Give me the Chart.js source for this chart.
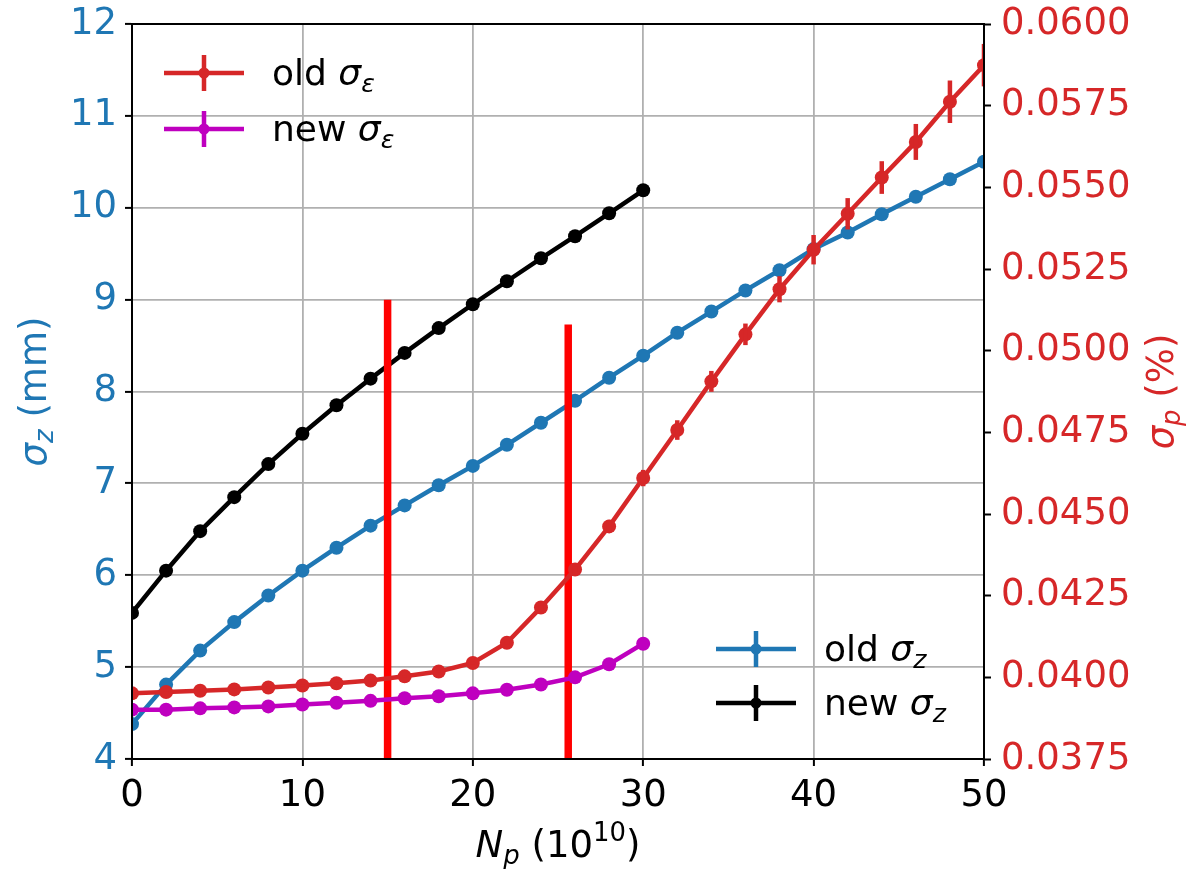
<!DOCTYPE html>
<html>
<head>
<meta charset="utf-8">
<script src="https://cdn.jsdelivr.net/npm/chart.js@4.4.1/dist/chart.umd.min.js"></script>
<style>
  body { margin: 0; background: #fff; }
  canvas { display: block; }
</style>
</head>
<body>
<canvas id="c" width="1187" height="869"></canvas>
<script>
// bunch intensity, 10^10
const npOld = [0, 2, 4, 6, 8, 10, 12, 14, 16, 18, 20, 22, 24, 26, 28, 30, 32, 34, 36, 38, 40, 42, 44, 46, 48, 50];
const npNew = [0, 2, 4, 6, 8, 10, 12, 14, 16, 18, 20, 22, 24, 26, 28, 30];

// bunch length (mm), left axis
const oldSigmaZ = [4.38, 4.81, 5.18, 5.49, 5.78, 6.05, 6.30, 6.54, 6.76, 6.98, 7.19, 7.42, 7.66, 7.90, 8.15, 8.39, 8.64, 8.87, 9.10, 9.32, 9.55, 9.73, 9.93, 10.12, 10.31, 10.50];
const newSigmaZ = [5.59, 6.05, 6.48, 6.85, 7.21, 7.54, 7.85, 8.14, 8.42, 8.69, 8.95, 9.20, 9.45, 9.69, 9.94, 10.19];

// energy spread (%), right axis
const oldSigmaE = [0.03951, 0.03955, 0.03959, 0.03963, 0.03969, 0.03975, 0.03982, 0.03990, 0.04003, 0.04018, 0.04044, 0.04106, 0.04214, 0.04330, 0.04462, 0.04610, 0.04757, 0.04906, 0.05050, 0.05188, 0.05309, 0.05419, 0.05530, 0.05639, 0.05762, 0.05874];
const oldSigmaEErr = [0.00003, 0.00003, 0.00003, 0.00003, 0.00003, 0.00003, 0.00003, 0.00003, 0.00003, 0.00003, 0.00004, 0.00005, 0.00006, 0.00010, 0.00020, 0.00025, 0.00030, 0.00032, 0.00033, 0.00040, 0.00045, 0.00048, 0.00050, 0.00055, 0.00065, 0.00065];
const newSigmaE = [0.03901, 0.03901, 0.03905, 0.03908, 0.03911, 0.03917, 0.03922, 0.03928, 0.03936, 0.03942, 0.03951, 0.03962, 0.03978, 0.04000, 0.04040, 0.04103];

// threshold markers (x, top on left axis)
const thresholdX = [15, 25.6];
const thresholdTop = [9.0, 8.73];

const xTicks = [0, 10, 20, 30, 40, 50];
const leftRange = [4, 12];
const rightRange = [0.0375, 0.06];

const BLUE = '#1f77b4', RED = '#d62728', MAG = '#bf00bf', BLACK = '#000000', GRID = '#b0b0b0';
const FONT = '"DejaVu Sans", sans-serif';
const LW = 4.5;

function pts(xs, ys) { return xs.map((x, i) => ({ x: x, y: ys[i] })); }

function series(label, xs, ys, color, axis) {
  return {
    label: label, data: pts(xs, ys), yAxisID: axis,
    borderColor: color, backgroundColor: color,
    borderWidth: LW, pointRadius: 7, pointHoverRadius: 7,
    pointBorderWidth: 0, pointBackgroundColor: color, clip: 0
  };
}

function vline(i) {
  return {
    label: 'threshold', data: [{ x: thresholdX[i], y: leftRange[0] }, { x: thresholdX[i], y: thresholdTop[i] }],
    yAxisID: 'y', borderColor: '#ff0000', borderWidth: 7.5, pointRadius: 0, borderCapStyle: 'butt', clip: 0
  };
}

// mixed text: n normal, i italic, is italic subscript, ns normal superscript
function fontFor(style, size) {
  const s = style.length > 1 ? size * 0.7 : size;
  return (style[0] === 'i' ? 'italic ' : '') + s + 'px ' + FONT;
}
function partsWidth(ctx, parts, size) {
  let w = 0;
  parts.forEach(p => { ctx.font = fontFor(p[1], size); w += ctx.measureText(p[0]).width; });
  return w;
}
function drawParts(ctx, parts, x, y, size, color) {
  ctx.fillStyle = color;
  ctx.textBaseline = 'alphabetic';
  ctx.textAlign = 'left';
  parts.forEach(p => {
    ctx.font = fontFor(p[1], size);
    let dy = 0;
    if (p[1].length > 1) dy = p[1] === 'ns' ? -0.42 * size : 0.2 * size;
    ctx.fillText(p[0], x, y + dy);
    x += ctx.measureText(p[0]).width;
  });
}

const legendRows = [
  { parts: [['old ', 'n'], ['σ', 'i'], ['ε', 'is']], color: RED, x: 164, y: 73 },
  { parts: [['new ', 'n'], ['σ', 'i'], ['ε', 'is']], color: MAG, x: 164, y: 129 },
  { parts: [['old ', 'n'], ['σ', 'i'], ['z', 'is']], color: BLUE, x: 716, y: 649 },
  { parts: [['new ', 'n'], ['σ', 'i'], ['z', 'is']], color: BLACK, x: 716, y: 703 }
];

const extras = {
  id: 'extras',
  afterDatasetDraw(chart, args) {
    const ds = chart.data.datasets[args.index];
    if (!ds.errors) return;
    const ctx = chart.ctx, a = chart.chartArea;
    const xs = chart.scales.x, ys = chart.scales[ds.yAxisID];
    ctx.save();
    ctx.beginPath();
    ctx.rect(a.left, a.top, a.right - a.left, a.bottom - a.top);
    ctx.clip();
    ctx.strokeStyle = ds.borderColor;
    ctx.lineWidth = LW;
    ds.data.forEach((p, i) => {
      const px = xs.getPixelForValue(p.x);
      ctx.beginPath();
      ctx.moveTo(px, ys.getPixelForValue(p.y - ds.errors[i]));
      ctx.lineTo(px, ys.getPixelForValue(p.y + ds.errors[i]));
      ctx.stroke();
    });
    ctx.restore();
  },
  afterDraw(chart) {
    const ctx = chart.ctx, a = chart.chartArea;
    ctx.save();
    // frame
    ctx.strokeStyle = BLACK;
    ctx.lineWidth = 2;
    ctx.strokeRect(a.left, a.top, a.right - a.left, a.bottom - a.top);

    // axis titles
    const tSize = 37;
    const cy = (a.top + a.bottom) / 2;
    const lp = [['σ', 'i'], ['z', 'is'], [' (mm)', 'n']];
    ctx.save();
    ctx.translate(46, cy);
    ctx.rotate(-Math.PI / 2);
    drawParts(ctx, lp, -partsWidth(ctx, lp, tSize) / 2, 0, tSize, BLUE);
    ctx.restore();

    const rp = [['σ', 'i'], ['p', 'is'], [' (%)', 'n']];
    ctx.save();
    ctx.translate(1173, cy);
    ctx.rotate(-Math.PI / 2);
    drawParts(ctx, rp, -partsWidth(ctx, rp, tSize) / 2, 0, tSize, RED);
    ctx.restore();

    const xp = [['N', 'i'], ['p', 'is'], [' (10', 'n'], ['10', 'ns'], [')', 'n']];
    drawParts(ctx, xp, (a.left + a.right) / 2 - partsWidth(ctx, xp, tSize) / 2, 857, tSize, BLACK);

    // legends
    legendRows.forEach(r => {
      ctx.strokeStyle = r.color;
      ctx.fillStyle = r.color;
      ctx.lineWidth = LW;
      ctx.beginPath();
      ctx.moveTo(r.x, r.y); ctx.lineTo(r.x + 80, r.y);
      ctx.moveTo(r.x + 40, r.y - 18); ctx.lineTo(r.x + 40, r.y + 18);
      ctx.stroke();
      ctx.beginPath();
      ctx.arc(r.x + 40, r.y, 5.5, 0, Math.PI * 2);
      ctx.fill();
      drawParts(ctx, r.parts, r.x + 108, r.y + 12, 36, BLACK);
    });
    ctx.restore();
  }
};

const oldE = series('old σε', npOld, oldSigmaE, RED, 'y1');
oldE.errors = oldSigmaEErr;

const tickFont = { family: FONT, size: 37 };
const yTickFont = { family: FONT, size: 37, lineHeight: 0.75 };

new Chart(document.getElementById('c'), {
  type: 'line',
  data: {
    datasets: [
      oldE,
      series('new σε', npNew, newSigmaE, MAG, 'y1'),
      vline(0),
      vline(1),
      series('new σz', npNew, newSigmaZ, BLACK, 'y'),
      series('old σz', npOld, oldSigmaZ, BLUE, 'y')
    ]
  },
  options: {
    responsive: false,
    animation: false,
    devicePixelRatio: 1,
    layout: { autoPadding: false, padding: { top: 24, left: 0, right: 0, bottom: 0 } },
    plugins: { legend: { display: false }, tooltip: { enabled: false } },
    scales: {
      x: {
        type: 'linear', min: 0, max: 50,
        afterBuildTicks: s => { s.ticks = xTicks.map(v => ({ value: v })); },
        afterFit: s => { s.height = 110; },
        ticks: { color: BLACK, font: tickFont, padding: 8, maxRotation: 0 },
        grid: { color: GRID, lineWidth: 1.8, tickColor: BLACK, tickLength: 7, tickWidth: 2 },
        border: { color: BLACK, width: 2 }
      },
      y: {
        position: 'left', min: leftRange[0], max: leftRange[1],
        afterFit: s => { s.width = 132; },
        ticks: { stepSize: 1, color: BLUE, font: yTickFont, padding: 8 },
        grid: { color: GRID, lineWidth: 1.8, tickColor: BLACK, tickLength: 7, tickWidth: 2 },
        border: { color: BLACK, width: 2 }
      },
      y1: {
        position: 'right', min: rightRange[0], max: rightRange[1],
        afterFit: s => { s.width = 203; },
        ticks: { stepSize: 0.0025, color: RED, font: yTickFont, padding: 10,
                 callback: v => v.toFixed(4) },
        grid: { drawOnChartArea: false, tickColor: BLACK, tickLength: 7, tickWidth: 2 },
        border: { color: BLACK, width: 2 }
      }
    }
  },
  plugins: [extras]
});
</script>
</body>
</html>
